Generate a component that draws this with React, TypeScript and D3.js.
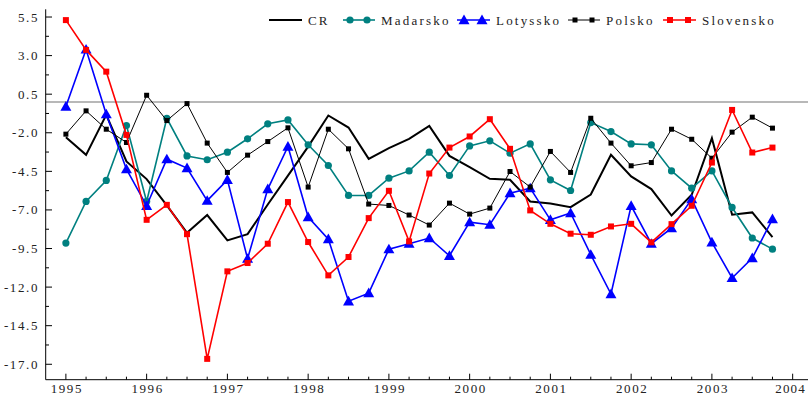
import React from "react"
import * as d3 from "d3"

// quarterly values 1995 Q1 .. 2003 Q4
const quarters = d3.range(36).map(i => 1995 + i / 4)

const cr = [-2.29, -3.43, -0.84, -3.86, -5.0, -6.7, -8.48, -7.33, -8.97, -8.57, -6.65, -4.78,
  -2.9, -0.88, -1.66, -3.69, -3.0, -2.39, -1.55, -3.5, -4.23, -4.98, -5.05, -6.45,
  -6.58, -6.82, -6.0, -3.43, -4.83, -5.65, -7.36, -6.02, -2.35, -7.31, -7.16, -8.76]
const madarsko = [-9.15, -6.45, -5.09, -1.53, -6.45, -1.06, -3.5, -3.75, -3.26, -2.39, -1.42, -1.17,
  -2.78, -4.12, -6.06, -6.06, -4.94, -4.47, -3.26, -4.77, -2.85, -2.52, -3.32, -2.72,
  -5.05, -5.74, -1.34, -1.92, -2.72, -2.78, -4.47, -5.59, -4.47, -6.84, -8.82, -9.54]
const lotyssko = [-0.3, 3.4, -0.8, -4.36, -6.73, -3.71, -4.29, -6.4, -5.05, -10.16, -5.65, -2.89,
  -7.46, -8.89, -12.92, -12.39, -9.54, -9.19, -8.82, -9.97, -7.79, -7.96, -5.91, -5.59,
  -7.64, -7.2, -9.9, -12.45, -6.73, -9.19, -8.18, -6.3, -9.1, -11.41, -10.12, -7.59]
const polsko = [-2.09, -0.58, -1.77, -2.63, 0.43, -1.21, -0.11, -2.67, -4.57, -3.45, -2.57, -1.68,
  -5.52, -1.77, -3.04, -6.62, -6.71, -7.33, -7.98, -6.56, -7.27, -6.88, -4.51, -5.52,
  -3.21, -4.57, -1.06, -2.67, -4.14, -3.93, -1.77, -2.42, -3.65, -1.96, -0.99, -1.7]
const slovensko = [5.3, 3.37, 1.96, -2.14, -7.64, -6.67, -8.57, -16.65, -10.98, -10.44, -9.19, -6.49,
  -9.08, -11.24, -10.05, -7.53, -5.76, -9.04, -4.64, -2.96, -2.24, -1.12, -3.04, -7.03,
  -7.9, -8.54, -8.61, -8.07, -7.9, -9.1, -7.92, -6.73, -3.93, -0.52, -3.28, -2.96]

const yearTicks = [1995, 1996, 1997, 1998, 1999, 2000, 2001, 2002, 2003, 2004]
const yTicks = [5.5, 3.0, 0.5, -2.0, -4.5, -7.0, -9.5, -12.0, -14.5, -17.0]

const series = [
  { name: "CR", values: cr, color: "#000", width: 2, marker: "none" },
  { name: "Madarsko", values: madarsko, color: "#008080", width: 1.6, marker: "circle" },
  { name: "Lotyssko", values: lotyssko, color: "#0000ff", width: 1.6, marker: "triangle" },
  { name: "Polsko", values: polsko, color: "#000", width: 1, marker: "smallsquare" },
  { name: "Slovensko", values: slovensko, color: "#ff0000", width: 1.6, marker: "square" },
]

// legend layout: [line start, line end, text x]
const legendPos = [[269, 302, 308], [343, 375, 381], [457, 490, 496], [568, 600, 606], [663, 696, 702]]

const textStyle = { fontFamily: "'Liberation Serif', 'Times New Roman', 'DejaVu Serif', serif" }

function Marker({ type, x, y, color }: { type: string, x: number, y: number, color: string }) {
  if (type === "circle") return <circle cx={x} cy={y} r={3.6} fill={color} />
  if (type === "square") return <rect x={x - 3} y={y - 3} width={6} height={6} fill={color} />
  if (type === "smallsquare") return <rect x={x - 2.5} y={y - 2.5} width={5} height={5} fill={color} />
  if (type === "triangle") {
    const s = 5.5
    return <path d={`M${x},${y - s}L${x + s},${y + s * 0.75}L${x - s},${y + s * 0.75}Z`} fill={color} />
  }
  return null
}

export default function App() {
  const width = 808, height = 396
  const x = d3.scaleLinear().domain([1994.75, 2004.19]).range([45.7, 808])
  const y = d3.scaleLinear().domain([6, -18]).range([9.3, 379.7])

  const line = d3.line<number>()
    .x((d, i) => x(quarters[i]))
    .y(d => y(d))

  const minorX = d3.range(1995, 2004.2, 0.25).filter(q => q % 1 !== 0)
  const minorY = yTicks.slice(0, -1).map(t => t - 1.25)

  return (
    <svg width={width} height={height} style={{ position: "absolute", left: 0, top: 0, background: "#fff" }}>
      {/* zero line */}
      <line x1={x(1994.75)} x2={808} y1={y(0)} y2={y(0)} stroke="#a0a0a0" strokeWidth={1.5} />

      {/* axes */}
      <line x1={45.7} x2={45.7} y1={y(6)} y2={y(-18)} stroke="#000" strokeWidth={1} />
      <line x1={45.7} x2={808} y1={y(-18)} y2={y(-18)} stroke="#000" strokeWidth={1} />

      {yTicks.map(t => (
        <g key={"y" + t}>
          <line x1={45.7} x2={52} y1={y(t)} y2={y(t)} stroke="#000" />
          <text x={39} y={y(t) + 4.5} textAnchor="end" style={textStyle} fontSize={13}
            letterSpacing={1.6} fill="#222">{t.toFixed(1)}</text>
        </g>
      ))}
      {minorY.map(t => (
        <line key={"my" + t} x1={45.7} x2={49} y1={y(t)} y2={y(t)} stroke="#000" />
      ))}

      {yearTicks.map(t => (
        <g key={"x" + t}>
          <line x1={x(t)} x2={x(t)} y1={y(-18)} y2={y(-18) - 6} stroke="#000" />
          <text x={t === 2004 ? 806 : x(t) + 1} y={393} textAnchor={t === 2004 ? "end" : "middle"}
            style={textStyle} fontSize={13} letterSpacing={t === 2004 ? 1.2 : 1.6} fill="#222">{t}</text>
        </g>
      ))}
      {minorX.map(t => (
        <line key={"mx" + t} x1={x(t)} x2={x(t)} y1={y(-18)} y2={y(-18) - 3} stroke="#000" />
      ))}

      {/* series */}
      {series.map(s => (
        <g key={s.name}>
          <path d={line(s.values) || ""} fill="none" stroke={s.color} strokeWidth={s.width}
            strokeLinejoin="miter" />
          {s.values.map((v, i) => (
            <Marker key={i} type={s.marker} x={x(quarters[i])} y={y(v)} color={s.color} />
          ))}
        </g>
      ))}

      {/* legend */}
      {series.map((s, k) => {
        const [x1, x2, tx] = legendPos[k]
        const ly = 20
        return (
          <g key={"leg" + s.name}>
            <line x1={x1} x2={x2} y1={ly} y2={ly} stroke={s.color} strokeWidth={s.width} />
            {s.marker !== "none" && (
              <>
                <Marker type={s.marker} x={x1 + 7} y={ly} color={s.color} />
                <Marker type={s.marker} x={x2 - 8} y={ly} color={s.color} />
              </>
            )}
            <text x={tx} y={ly + 5} style={textStyle} fontSize={13} letterSpacing={2.2} fill="#222">{s.name}</text>
          </g>
        )
      })}
    </svg>
  )
}
